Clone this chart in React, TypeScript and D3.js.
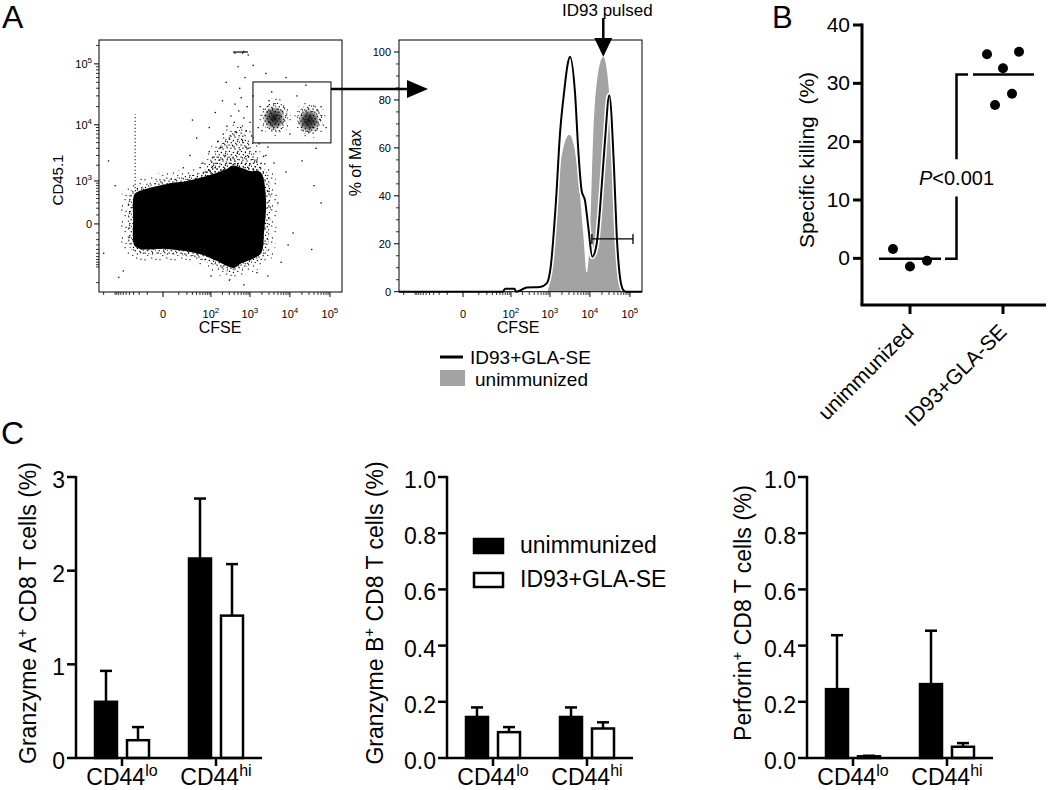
import React from "react";
import * as d3 from "d3";

const FONT = "'Liberation Sans', Arial, Helvetica, sans-serif";
const W = 1050;
const H = 790;

// ---------------- Panel A : dot plot (CFSE vs CD45.1) ----------------
const logTickValues = [0, 100, 1000, 10000, 100000];
const logTickLabels = ["0", "10^2", "10^3", "10^4", "10^5"];
const cd45TickValues = [0, 1000, 10000, 100000];
const cd45TickLabels = ["0", "10^3", "10^4", "10^5"];

// outline of the dense event cloud (CFSE, CD45.1)
const denseCloudOutline: [number, number][] = [
  [-18.7, 579], [1.75, 827], [20, 955], [78, 1203], [263, 1638], [373, 1900],
  [1002, 1500], [1787, 1438], [2380, 364], [2120, -100], [1787, -491],
  [561, -827], [373, -1001], [145, -713], [50, -491], [1.75, -364],
  [-18.7, -364], [-27, -299], [-29, 40], [-27, 491],
];
// medium density region above the cloud
const plumeOutline: [number, number][] = [
  [69, 1320], [233, 5560], [560, 8200], [1120, 3750], [1590, 1640], [400, 1700],
];
// sparse individual events
const sparseEvents: [number, number][] = [
  [60, 2200], [90, 3500], [120, 2800], [150, 5200], [180, 4100], [210, 7000], [240, 3000],
  [260, 9500], [300, 6000], [330, 14000], [360, 4500], [400, 11000], [420, 22000], [450, 7500],
  [480, 3300], [520, 17000], [550, 40000], [580, 9000], [600, 28000], [650, 5500], [700, 13000],
  [750, 60000], [800, 8000], [850, 20000], [900, 4000], [1000, 11000], [1100, 6500], [1200, 30000],
  [1400, 3500], [1600, 9000], [130, 16000], [200, 25000], [90, 9000], [40, 6000], [500, 90000],
  [650, 150000], [700, 160000], [420, 150000], [900, 140000], [30, 12000], [250, 50000],
  [1500, 2500], [2500, 3000], [4000, 2200], [8000, 1500], [20000, 2400], [40000, 800],
  [60000, 300], [3000, 600], [12000, -100], [35000, -400], [6000, -800], [2800, -1500],
  [700, -2200], [300, -1800], [-80, -1600], [-150, 2400], [-100, 800], [1800, 20000],
  [2500, 70000], [3500, 35000], [15, 1800], [25, 3000], [70, 1500], [110, 1900], [170, 2500],
  [320, 2600], [560, 3800], [780, 2900], [1300, 2300], [1700, 4800], [2200, 2900],
  [-60, -1200], [-200, -500], [100, -1500], [1500, -1300], [5000, 300], [9000, -300],
  [2000, 8000], [3000, 25000], [15000, 30000], [60000, 20000], [80000, 9000], [10000, 7000],
  [8000, 60000], [25000, 45000], [1200, 95000], [2800, 4200], [45000, 4000],
];
const streakCFSE = -27;
const streakCD45 = [700, 15000];
const topDashCFSE = [373, 890];
const topDashCD45 = 156000;
// CFSE-labelled target populations inside the gate (CFSE, CD45.1)
const targetPopulations: [number, number][] = [[4250, 13400], [31700, 12100]];
const gateCFSE = [1190, 106000];
const gateCD45 = [4950, 50700];

// ---------------- Panel A : histogram ----------------
const histYTicks = [0, 20, 40, 60, 80, 100];
const histUnimmunized: [number, number][] = [
  [60, 0], [70, 1.2], [125, 1.2], [135, 0], [850, 0], [908, 1], [1338, 24], [1787, 52],
  [3054, 65.5], [3845, 62], [5127, 48], [6834, 24], [8316, 8], [10057, 24], [12160, 66],
  [14776, 87], [21584, 98], [28791, 87], [35000, 66], [42322, 38], [51143, 13],
  [65860, 1], [70000, 0], [200000, 0],
];
const histImmunized: [number, number][] = [
  [-263, 0], [60, 0], [70, 1.2], [125, 1.2], [135, 0], [173, 0.5], [258, 1.8], [561, 2],
  [828, 3.5], [1044, 10.4], [1418, 38], [1787, 66], [2290, 84], [2786, 95], [3180, 98],
  [4242, 83], [5127, 59], [6235, 42], [7540, 38], [9108, 27], [11466, 14.6], [14776, 20],
  [19690, 44], [23807, 63], [30485, 82], [39940, 52], [46655, 24], [56434, 6], [68200, 0.7],
  [80000, 0], [200000, 0],
];
const killGateCFSE = [11200, 119000];
const killGateLevel = 22;
const pulsedPeakCFSE = 21584;

// ---------------- Panel B ----------------
const killingGroups = ["unimmunized", "ID93+GLA-SE"];
const killingUnimmunized = [1.6, -1.4, -0.4];
const killingImmunized = [35.0, 32.6, 35.4, 26.3, 28.2];
const killingTicks = [0, 10, 20, 30, 40];
const pValueText = "<0.001";

// ---------------- Panel C ----------------
const cd44Subsets = ["lo", "hi"];
const seriesNames = ["unimmunized", "ID93+GLA-SE"];
const granzymeAUnimm = [0.6, 2.13];
const granzymeAUnimmSem = [0.33, 0.64];
const granzymeAImmun = [0.19, 1.52];
const granzymeAImmunSem = [0.14, 0.55];
const granzymeBUnimm = [0.146, 0.146];
const granzymeBUnimmSem = [0.034, 0.034];
const granzymeBImmun = [0.092, 0.105];
const granzymeBImmunSem = [0.018, 0.022];
const perforinUnimm = [0.245, 0.263];
const perforinUnimmSem = [0.192, 0.19];
const perforinImmun = [0.006, 0.04];
const perforinImmunSem = [0.002, 0.013];
const granzymeATicks = [0, 1, 2, 3];
const fractionTicks = [0, 0.2, 0.4, 0.6, 0.8, 1.0];

// speckle dot layout for the textures (tile-relative)
const speckDenseDots = [
  [0.5, 0.5], [4.2, 1.3], [8.1, 0.2], [10.6, 3.1], [2.3, 3.6], [6.4, 4.4], [0.9, 6.8],
  [4.8, 7.9], [9.3, 6.9], [11.2, 9.6], [2.7, 10.1], [7.2, 10.8], [5.6, 2.5], [8.9, 8.6],
];
const speckSparseDots = [
  [1.2, 1.5], [9.4, 3.2], [4.6, 7.1], [13.1, 9.4], [7.8, 12.6], [1.9, 13.4], [12.2, 15.1], [5.5, 2.8],
];

// ---------------------------------------------------------------
function SupText(props: any) {
  const { x, y, label, anchor = "middle", size = 11, supSize = 8, rise = 5 } = props;
  const [base, exp] = label.split("^");
  return (
    <text x={x} y={y} textAnchor={anchor} fontSize={size} fontFamily={FONT} fill="#000">
      {base}
      {exp ? (
        <tspan dy={-rise} fontSize={supSize}>
          {exp}
        </tspan>
      ) : null}
    </text>
  );
}

function logMinorTicks(domain: number[], majors: number[]) {
  const out: number[] = [];
  for (let k = 1; k <= 5; k++)
    for (let m = 1; m <= 9; m++) {
      const v = m * Math.pow(10, k);
      out.push(v, -v);
    }
  return out.filter((v) => v > domain[0] && v < domain[1] && !majors.includes(v));
}

function BarPanel(props: any) {
  const { axisX, yMax, ticks, fmt, labelX, labelMain, labelRest, unimm, unimmErr, immun, immunErr, legend } = props;
  const y = d3.scaleLinear().domain([0, yMax]).range([758, 477]);
  const x = d3.scalePoint().domain(cd44Subsets).range([axisX + 46, axisX + 140]);
  const inner = d3.scaleBand().domain(seriesNames).range([-28, 28]).paddingInner(0.25);
  const bw = inner.bandwidth();
  const series = [
    { name: seriesNames[0], vals: unimm, errs: unimmErr, fill: "#000" },
    { name: seriesNames[1], vals: immun, errs: immunErr, fill: "#fff" },
  ];
  return (
    <g>
      {series.map((s) =>
        cd44Subsets.map((sub, i) => {
          const cx = (x(sub) as number) + (inner(s.name) as number) + bw / 2;
          const top = y(s.vals[i]);
          const errTop = y(s.vals[i] + s.errs[i]);
          return (
            <g key={s.name + sub}>
              <line x1={cx} x2={cx} y1={top} y2={errTop} stroke="#000" strokeWidth={2.5} />
              <line x1={cx - 6} x2={cx + 6} y1={errTop} y2={errTop} stroke="#000" strokeWidth={2.5} />
              <rect x={cx - bw / 2 + 1} y={top} width={bw - 2} height={y(0) - top} fill={s.fill} stroke="#000" strokeWidth={2.5} />
            </g>
          );
        })
      )}
      <line x1={axisX} x2={axisX} y1={y(yMax) - 1} y2={y(0)} stroke="#000" strokeWidth={2.5} />
      <line x1={axisX - 1} x2={axisX + 186} y1={y(0)} y2={y(0)} stroke="#000" strokeWidth={2.5} />
      {ticks.map((t: number) => (
        <g key={t}>
          <line x1={axisX - 9} x2={axisX} y1={y(t)} y2={y(t)} stroke="#000" strokeWidth={2.5} />
          <text x={axisX - 11} y={y(t) + 11} textAnchor="end" fontSize={23} fontFamily={FONT}>
            {fmt(t)}
          </text>
        </g>
      ))}
      {cd44Subsets.map((sub) => (
        <g key={sub}>
          <line x1={x(sub)} x2={x(sub)} y1={y(0)} y2={y(0) + 8} stroke="#000" strokeWidth={2.5} />
          <text x={x(sub)} y={785} textAnchor="middle" fontSize={23} fontFamily={FONT}>
            CD44
            <tspan dy={-9} fontSize={16}>
              {sub}
            </tspan>
          </text>
        </g>
      ))}
      <text transform={`translate(${labelX},613) rotate(-90)`} textAnchor="middle" fontSize={23} fontFamily={FONT}>
        {labelMain}
        <tspan dy={-9} fontSize={15}>
          +
        </tspan>
        <tspan dy={9}>{labelRest}</tspan>
      </text>
      {legend ? (
        <g fontFamily={FONT} fontSize={23}>
          <rect x={474} y={539} width={29} height={14} fill="#000" stroke="#000" strokeWidth={2.5} />
          <text x={520} y={553}>{seriesNames[0]}</text>
          <rect x={474} y={573} width={29} height={14} fill="#fff" stroke="#000" strokeWidth={2.5} />
          <text x={520} y={587}>{seriesNames[1]}</text>
        </g>
      ) : null}
    </g>
  );
}

export default function App() {
  const xDot = d3.scaleSymlog().constant(6.8).domain([-263, 2.0e5]).range([99, 342]);
  const yDot = d3.scaleSymlog().constant(250).domain([-2950, 2.45e5]).range([292, 40]);
  const xHist = d3.scaleSymlog().constant(6.8).domain([-263, 2.0e5]).range([399, 642]);
  const yHist = d3.scaleLinear().domain([0, 105]).range([291.7, 40]);

  const closedCurve = d3.line().curve(d3.curveCatmullRomClosed.alpha(0.5));
  const cloudPath = closedCurve(denseCloudOutline.map(([c, d]) => [xDot(c), yDot(d)] as [number, number])) || "";
  const plumePath = closedCurve(plumeOutline.map(([c, d]) => [xDot(c), yDot(d)] as [number, number])) || "";

  const xMinor = logMinorTicks([-263, 2.0e5], logTickValues);
  const yMinor = logMinorTicks([-2950, 2.45e5], cd45TickValues).filter((v) => Math.abs(v) >= 100);

  const histArea = d3
    .area<[number, number]>()
    .x((d) => xHist(d[0]))
    .y0(yHist(0))
    .y1((d) => yHist(d[1]))
    .curve(d3.curveMonotoneX);
  const histLine = d3
    .line<[number, number]>()
    .x((d) => xHist(d[0]))
    .y((d) => yHist(d[1]))
    .curve(d3.curveMonotoneX);

  const histMinorY = d3.range(0, 105, 5).filter((v) => !histYTicks.includes(v));

  const xB = d3.scalePoint().domain(killingGroups).range([910, 1003]);
  const yB = d3.scaleLinear().domain([-8, 40]).range([305, 25]);
  const jitterU = [-17, 0, 17];
  const jitterI = [-16, 0, 16, -8, 9];
  const meanU = d3.mean(killingUnimmunized) as number;
  const meanI = d3.mean(killingImmunized) as number;
  const xU = xB(killingGroups[0]) as number;
  const xI = xB(killingGroups[1]) as number;
  const mid = (xU + xI) / 2;

  const gateX = xDot(gateCFSE[0]);
  const gateX2 = xDot(gateCFSE[1]);
  const gateY = yDot(gateCD45[1]);
  const gateY2 = yDot(gateCD45[0]);
  const arrowY = gateY + 7;

  return (
    <svg width={W} height={H} style={{ position: "absolute", left: 0, top: 0, background: "#fff" }} fontFamily={FONT}>
      <defs>
        <pattern id="speckDense" width="12" height="12" patternUnits="userSpaceOnUse">
          {speckDenseDots.map(([a, b], i) => (
            <rect key={i} x={a} y={b} width="1.2" height="1.2" fill="#000" />
          ))}
        </pattern>
        <pattern id="speckSparse" width="15" height="16" patternUnits="userSpaceOnUse">
          {speckSparseDots.map(([a, b], i) => (
            <rect key={i} x={a} y={b} width="1.1" height="1.1" fill="#000" />
          ))}
        </pattern>
        <radialGradient id="clusterCore">
          <stop offset="0%" stopColor="#000" stopOpacity={0.9} />
          <stop offset="60%" stopColor="#000" stopOpacity={0.6} />
          <stop offset="100%" stopColor="#000" stopOpacity={0} />
        </radialGradient>
        <clipPath id="dotClip">
          <rect x={99} y={40} width={243} height={252} />
        </clipPath>
      </defs>

      <text x={2} y={28} fontSize={32} fontFamily={FONT}>A</text>

      {/* ---- dot plot ---- */}
      <g clipPath="url(#dotClip)">
        <path d={plumePath} fill="url(#speckDense)" stroke="url(#speckSparse)" strokeWidth={14} />
        <path d={cloudPath} fill="none" stroke="url(#speckSparse)" strokeWidth={26} />
        <path d={cloudPath} fill="#000" stroke="url(#speckDense)" strokeWidth={12} />
        <path d={cloudPath} fill="#000" stroke="#000" strokeWidth={2} />
        <line x1={xDot(streakCFSE)} x2={xDot(streakCFSE)} y1={yDot(streakCD45[0])} y2={yDot(streakCD45[1])} stroke="#000" strokeWidth={1.2} strokeDasharray="1 2.5" />
        <line x1={xDot(topDashCFSE[0])} x2={xDot(topDashCFSE[1])} y1={yDot(topDashCD45)} y2={yDot(topDashCD45)} stroke="#333" strokeWidth={1.5} />
        {sparseEvents.map(([c, d], i) => (
          <rect key={i} x={xDot(c) - 0.6} y={yDot(d) - 0.6} width={1.3} height={1.3} fill="#000" />
        ))}
        {targetPopulations.map(([c, d], i) => (
          <g key={i}>
            <ellipse cx={xDot(c)} cy={yDot(d)} rx={16} ry={19} fill="url(#speckSparse)" />
            <ellipse cx={xDot(c)} cy={yDot(d)} rx={13} ry={15} fill="url(#speckDense)" />
            <ellipse cx={xDot(c) - 1} cy={yDot(d) + 1} rx={11} ry={12} fill="url(#clusterCore)" />
          </g>
        ))}
      </g>
      <rect x={99} y={40} width={243} height={252} fill="none" stroke="#000" strokeWidth={1} />
      <rect x={gateX} y={gateY} width={gateX2 - gateX} height={gateY2 - gateY} fill="none" stroke="#000" strokeWidth={1} />
      {xMinor.map((v) => (
        <line key={v} x1={xDot(v)} x2={xDot(v)} y1={292} y2={295} stroke="#000" strokeWidth={0.8} />
      ))}
      {logTickValues.map((v, i) => (
        <g key={v}>
          <line x1={xDot(v)} x2={xDot(v)} y1={292} y2={297} stroke="#000" strokeWidth={1} />
          <SupText x={xDot(v)} y={318} label={logTickLabels[i]} />
        </g>
      ))}
      {yMinor.map((v) => (
        <line key={v} x1={96} x2={99} y1={yDot(v)} y2={yDot(v)} stroke="#000" strokeWidth={0.8} />
      ))}
      {cd45TickValues.map((v, i) => (
        <g key={v}>
          <line x1={94} x2={99} y1={yDot(v)} y2={yDot(v)} stroke="#000" strokeWidth={1} />
          <SupText x={92} y={yDot(v) + 4} label={cd45TickLabels[i]} anchor="end" />
        </g>
      ))}
      <text transform="translate(63,180) rotate(-90)" textAnchor="middle" fontSize={15} fontFamily={FONT}>CD45.1</text>
      <text x={220} y={333} textAnchor="middle" fontSize={16} fontFamily={FONT}>CFSE</text>

      <line x1={gateX2} x2={409} y1={arrowY} y2={arrowY} stroke="#000" strokeWidth={2.5} />
      <polygon points={`407,${arrowY - 9} 428,${arrowY} 407,${arrowY + 9}`} fill="#000" />

      {/* ---- histogram ---- */}
      <path d={histArea(histUnimmunized) || ""} fill="#a3a3a3" />
      <path d={histLine(histImmunized) || ""} fill="none" stroke="#fff" strokeWidth={5} />
      <path d={histLine(histImmunized) || ""} fill="none" stroke="#000" strokeWidth={2} />
      <rect x={399} y={40} width={243} height={251.7} fill="none" stroke="#000" strokeWidth={1} />
      <line x1={xHist(killGateCFSE[0])} x2={xHist(killGateCFSE[1])} y1={yHist(killGateLevel)} y2={yHist(killGateLevel)} stroke="#000" strokeWidth={1.3} />
      {killGateCFSE.map((v) => (
        <line key={v} x1={xHist(v)} x2={xHist(v)} y1={yHist(killGateLevel) - 5} y2={yHist(killGateLevel) + 5} stroke="#000" strokeWidth={1.3} />
      ))}
      <text x={562} y={16} fontSize={17} fontFamily={FONT}>ID93 pulsed</text>
      <line x1={xHist(pulsedPeakCFSE)} x2={xHist(pulsedPeakCFSE)} y1={18} y2={42} stroke="#000" strokeWidth={2.5} />
      <polygon points={`${xHist(pulsedPeakCFSE) - 9},38 ${xHist(pulsedPeakCFSE) + 9},38 ${xHist(pulsedPeakCFSE)},${yHist(98)}`} fill="#000" />
      {xMinor.map((v) => (
        <line key={v} x1={xHist(v)} x2={xHist(v)} y1={292} y2={295} stroke="#000" strokeWidth={0.8} />
      ))}
      {logTickValues.map((v, i) => (
        <g key={v}>
          <line x1={xHist(v)} x2={xHist(v)} y1={292} y2={297} stroke="#000" strokeWidth={1} />
          <SupText x={xHist(v)} y={318} label={logTickLabels[i]} />
        </g>
      ))}
      {histMinorY.map((v) => (
        <line key={v} x1={396} x2={399} y1={yHist(v)} y2={yHist(v)} stroke="#000" strokeWidth={0.8} />
      ))}
      {histYTicks.map((v) => (
        <g key={v}>
          <line x1={394} x2={399} y1={yHist(v)} y2={yHist(v)} stroke="#000" strokeWidth={1} />
          <text x={391} y={yHist(v) + 4} textAnchor="end" fontSize={11} fontFamily={FONT}>{v}</text>
        </g>
      ))}
      <text transform="translate(361,163) rotate(-90)" textAnchor="middle" fontSize={16} fontFamily={FONT}>% of Max</text>
      <text x={518} y={333} textAnchor="middle" fontSize={16} fontFamily={FONT}>CFSE</text>
      <line x1={440} x2={463} y1={357} y2={357} stroke="#000" strokeWidth={3} />
      <text x={470} y={364} fontSize={19} fontFamily={FONT}>{seriesNames[1]}</text>
      <rect x={440} y={370} width={25} height={16} fill="#a3a3a3" />
      <text x={475} y={386} fontSize={19} fontFamily={FONT}>{seriesNames[0]}</text>

      {/* ============ Panel B ============ */}
      <text x={772} y={28} fontSize={31} fontFamily={FONT}>B</text>
      <line x1={862} x2={862} y1={yB(40) - 1.5} y2={yB(-8)} stroke="#000" strokeWidth={3} />
      <line x1={860.5} x2={1046} y1={yB(-8)} y2={yB(-8)} stroke="#000" strokeWidth={3} />
      {killingTicks.map((t) => (
        <g key={t}>
          <line x1={853} x2={862} y1={yB(t)} y2={yB(t)} stroke="#000" strokeWidth={3} />
          <text x={850} y={yB(t) + 7} textAnchor="end" fontSize={21} fontFamily={FONT}>{t}</text>
        </g>
      ))}
      {killingGroups.map((g) => (
        <g key={g}>
          <line x1={xB(g)} x2={xB(g)} y1={yB(-8)} y2={yB(-8) + 9} stroke="#000" strokeWidth={3} />
          <text transform={`translate(${(xB(g) as number) + 5},333) rotate(-45)`} textAnchor="end" fontSize={21} fontFamily={FONT}>{g}</text>
        </g>
      ))}
      <text transform="translate(814,160) rotate(-90)" textAnchor="middle" fontSize={21} fontFamily={FONT} style={{ whiteSpace: "pre" }}>
        {"Specific killing  (%)"}
      </text>
      {killingUnimmunized.map((v, i) => (
        <circle key={"u" + i} cx={xU + jitterU[i]} cy={yB(v)} r={5} fill="#000" />
      ))}
      {killingImmunized.map((v, i) => (
        <circle key={"i" + i} cx={xI + jitterI[i]} cy={yB(v)} r={5} fill="#000" />
      ))}
      <line x1={xU - 31} x2={xU + 31} y1={yB(meanU)} y2={yB(meanU)} stroke="#000" strokeWidth={2.5} />
      <line x1={xI - 30} x2={xI + 31} y1={yB(meanI)} y2={yB(meanI)} stroke="#000" strokeWidth={2.5} />
      <polyline points={`${xU + 35},${yB(meanU)} ${mid},${yB(meanU)} ${mid},${yB(10.6)}`} fill="none" stroke="#000" strokeWidth={2.5} />
      <polyline points={`${mid},${yB(17)} ${mid},${yB(meanI)} ${xI - 35},${yB(meanI)}`} fill="none" stroke="#000" strokeWidth={2.5} />
      <text x={mid} y={yB(12.5)} textAnchor="middle" fontSize={20} fontFamily={FONT}>
        <tspan fontStyle="italic">P</tspan>
        {pValueText}
      </text>

      {/* ============ Panel C ============ */}
      <text x={1} y={444} fontSize={32} fontFamily={FONT}>C</text>
      <BarPanel axisX={76} yMax={3} ticks={granzymeATicks} fmt={d3.format("d")} labelX={36}
        labelMain="Granzyme A" labelRest=" CD8 T cells (%)"
        unimm={granzymeAUnimm} unimmErr={granzymeAUnimmSem} immun={granzymeAImmun} immunErr={granzymeAImmunSem} />
      <BarPanel axisX={447} yMax={1} ticks={fractionTicks} fmt={d3.format(".1f")} labelX={383}
        labelMain="Granzyme B" labelRest=" CD8 T cells (%)"
        unimm={granzymeBUnimm} unimmErr={granzymeBUnimmSem} immun={granzymeBImmun} immunErr={granzymeBImmunSem} legend />
      <BarPanel axisX={807} yMax={1} ticks={fractionTicks} fmt={d3.format(".1f")} labelX={751}
        labelMain="Perforin" labelRest=" CD8 T cells (%)"
        unimm={perforinUnimm} unimmErr={perforinUnimmSem} immun={perforinImmun} immunErr={perforinImmunSem} />
    </svg>
  );
}
